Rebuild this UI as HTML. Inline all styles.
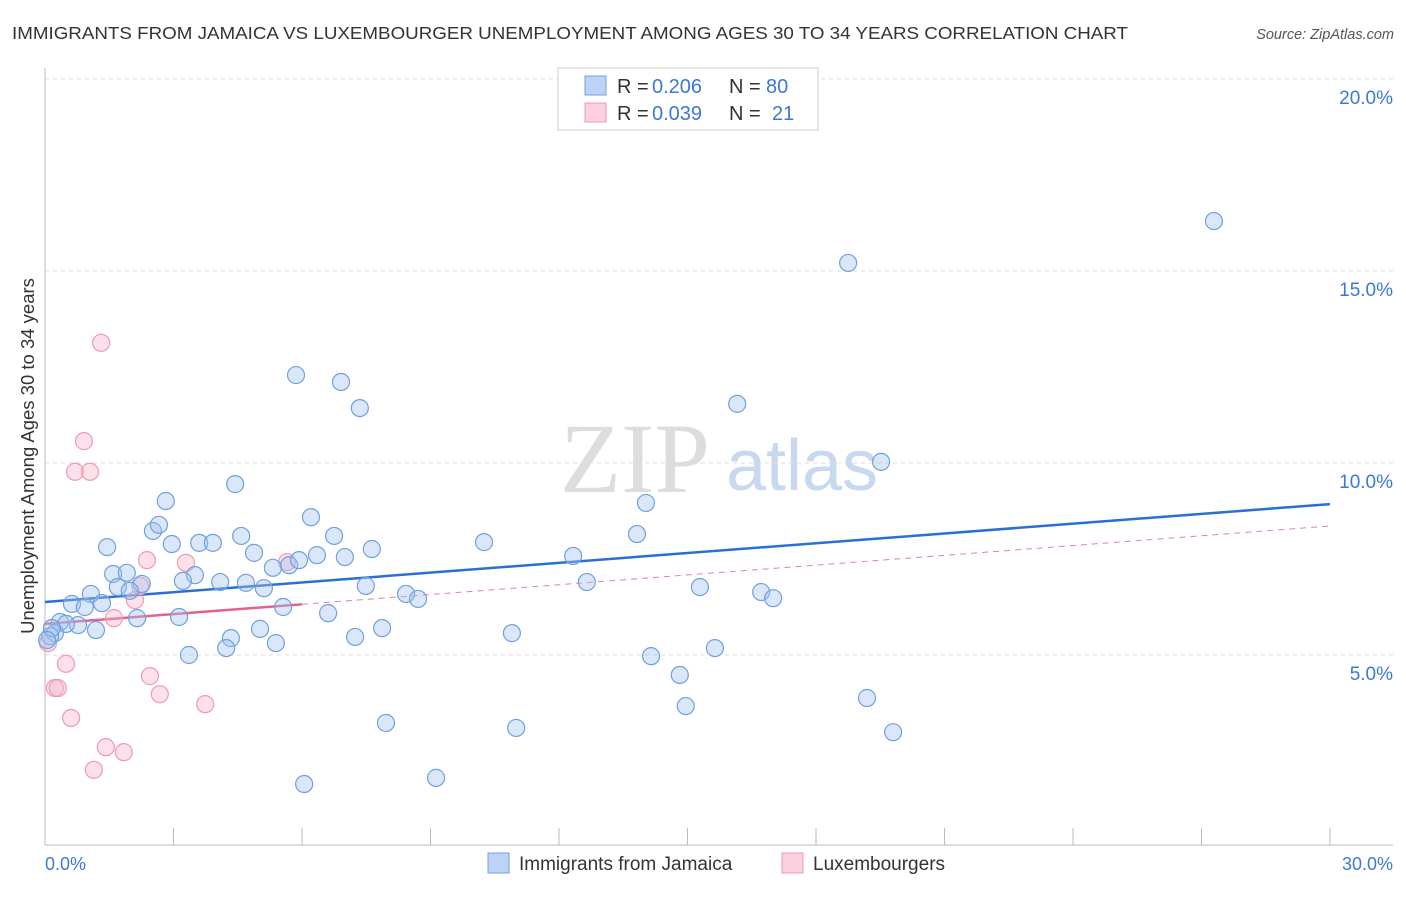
<!DOCTYPE html>
<html><head><meta charset="utf-8"><style>
body{margin:0;background:#fff;font-family:"Liberation Sans",sans-serif}
</style></head><body>
<svg id="chart" width="1406" height="892" xmlns="http://www.w3.org/2000/svg" style="font-family:'Liberation Sans',sans-serif">
<text x="12" y="39" font-size="17.5" fill="#333" textLength="1116" lengthAdjust="spacingAndGlyphs">IMMIGRANTS FROM JAMAICA VS LUXEMBOURGER UNEMPLOYMENT AMONG AGES 30 TO 34 YEARS CORRELATION CHART</text>
<text x="1394" y="39" font-size="14.5" fill="#555" text-anchor="end" font-style="italic">Source: ZipAtlas.com</text>
<text x="635" y="492" font-size="100" fill="#ddd" text-anchor="middle" font-family="Liberation Serif">ZIP</text>
<text x="802" y="490" font-size="72" fill="#c8d8ee" text-anchor="middle">atlas</text>
<g id="grid"></g><g id="axes"></g><g id="trends"></g><g id="pts"></g>
<text x="34" y="456" font-size="18.5" fill="#333" text-anchor="middle" transform="rotate(-90 34 456)">Unemployment Among Ages 30 to 34 years</text>
<text x="45" y="870" font-size="18" fill="#3b78d8">0.0%</text>
<text x="1393" y="870" font-size="18" fill="#3b78d8" text-anchor="end">30.0%</text>
<g>
<rect x="558" y="68" width="260" height="62" fill="#fff" stroke="#ccc"/>
<rect x="585" y="76" width="21" height="19" fill="#bcd3f5" stroke="#6fa0e0"/>
<rect x="585" y="103" width="21" height="19" fill="#fcd0dd" stroke="#ee9ab4"/>
<text x="617" y="93" font-size="20" fill="#333">R =</text>
<text x="652" y="93" font-size="20" fill="#3b78d8">0.206</text>
<text x="729" y="93" font-size="20" fill="#333">N =</text>
<text x="766" y="93" font-size="20" fill="#3b78d8">80</text>
<text x="617" y="120" font-size="20" fill="#333">R =</text>
<text x="652" y="120" font-size="20" fill="#3b78d8">0.039</text>
<text x="729" y="120" font-size="20" fill="#333">N =</text>
<text x="772" y="120" font-size="20" fill="#3b78d8">21</text>
</g>
<g>
<rect x="488" y="853" width="21" height="20" fill="#bcd3f5" stroke="#6fa0e0"/>
<text x="519" y="870" font-size="19" fill="#333">Immigrants from Jamaica</text>
<rect x="782" y="853" width="21" height="20" fill="#fcd0dd" stroke="#ee9ab4"/>
<text x="813" y="870" font-size="19" fill="#333">Luxembourgers</text>
</g>
</svg>
<script>
const yTicks=[5,10,15,20];
const yTickLabels=["5.0%","10.0%","15.0%","20.0%"];
const xTicks=[0,3,6,9,12,15,18,21,24,27,30];
const jamaicaPx=[[1214,221],[848,263],[296,375],[341,382],[360,408],[737,404],[881,462],[235,484],[166,501],[646,503],[311,517],[153,531],[159,525],[107,547],[172,544],[199,543],[213,543],[241,536],[334,536],[484,542],[637,534],[254,553],[317,555],[345,557],[372,549],[573,556],[113,574],[127,573],[195,575],[273,568],[289,565],[299,560],[183,581],[220,582],[246,583],[264,588],[366,586],[587,582],[700,587],[142,584],[118,587],[91,594],[130,591],[406,594],[418,599],[761,592],[773,598],[72,604],[102,603],[85,607],[283,607],[328,613],[179,617],[137,618],[60,622],[78,625],[66,624],[96,630],[382,628],[55,633],[50,636],[231,638],[260,629],[355,637],[512,633],[276,643],[226,648],[189,655],[651,656],[715,648],[680,675],[867,698],[686,706],[893,732],[386,723],[516,728],[436,778],[304,784],[52,628],[47,640]];
const luxPx=[[101,343],[84,441],[75,472],[90,472],[147,560],[186,563],[287,562],[140,586],[135,600],[114,618],[48,643],[66,664],[150,676],[55,688],[58,688],[160,694],[71,718],[205,704],[106,747],[124,752],[94,770]];
const jamaicaX=jamaicaPx.map(p=>+((p[0]-45)/1285*30).toFixed(2));
const jamaicaY=jamaicaPx.map(p=>+((847-p[1])/192*5).toFixed(2));
const luxX=luxPx.map(p=>+((p[0]-45)/1285*30).toFixed(2));
const luxY=luxPx.map(p=>+((847-p[1])/192*5).toFixed(2));
const jamaicaTrend=[6.38,8.93];
const luxTrend=[5.81,8.36];
const luxSolidEnd=6;
const X=v=>45+v/30*1285, Y=v=>847-v/5*192;
const NS="http://www.w3.org/2000/svg";
function mk(parent,tag,attrs){const e=document.createElementNS(NS,tag);for(const k in attrs)e.setAttribute(k,attrs[k]);document.getElementById(parent).appendChild(e);return e;}
yTicks.forEach((t,i)=>{
 const g=mk('grid','line',{x1:45,x2:1393,y1:Y(t),y2:Y(t),stroke:'#ddd','stroke-dasharray':'4 4'});
 
 
 const l=mk('grid','text',{x:1393,y:Y(t)+25,'font-size':19,fill:'#3b78d8','text-anchor':'end'});
 l.textContent=yTickLabels[i];
 
 
});
const ya=mk('axes','line',{x1:45,x2:45,y1:68,y2:845,stroke:'#bbb'});


const xa=mk('axes','line',{x1:45,x2:1393,y1:845,y2:845,stroke:'#bbb'});


xTicks.forEach(t=>{const k=mk('axes','line',{x1:X(t),x2:X(t),y1:828,y2:845,stroke:'#bbb'});
 
 });
function dot(x,y,fill,stroke,name){const c=mk('pts','circle',{cx:X(x),cy:Y(y),r:8.5,fill:fill,stroke:stroke,'stroke-width':1.2});
 
 }
luxX.forEach((x,i)=>dot(x,luxY[i],'rgba(248,180,200,0.4)','#ee9ab4','luxembourger-point'));
jamaicaX.forEach((x,i)=>dot(x,jamaicaY[i],'rgba(160,195,240,0.4)','#6fa0e0','jamaica-point'));
const slope=(luxTrend[1]-luxTrend[0])/30;
const ld=mk('trends','line',{x1:X(luxSolidEnd),y1:Y(luxTrend[0]+slope*luxSolidEnd),x2:X(30),y2:Y(luxTrend[1]),stroke:'#e87fa0','stroke-width':1,'stroke-dasharray':'6 5'});


const ls=mk('trends','line',{x1:X(0),y1:Y(luxTrend[0]),x2:X(luxSolidEnd),y2:Y(luxTrend[0]+slope*luxSolidEnd),stroke:'#e2628c','stroke-width':2.5});


const jt=mk('trends','line',{x1:X(0),y1:Y(jamaicaTrend[0]),x2:X(30),y2:Y(jamaicaTrend[1]),stroke:'#2a6fd6','stroke-width':2.5});


</script>
</body></html>
